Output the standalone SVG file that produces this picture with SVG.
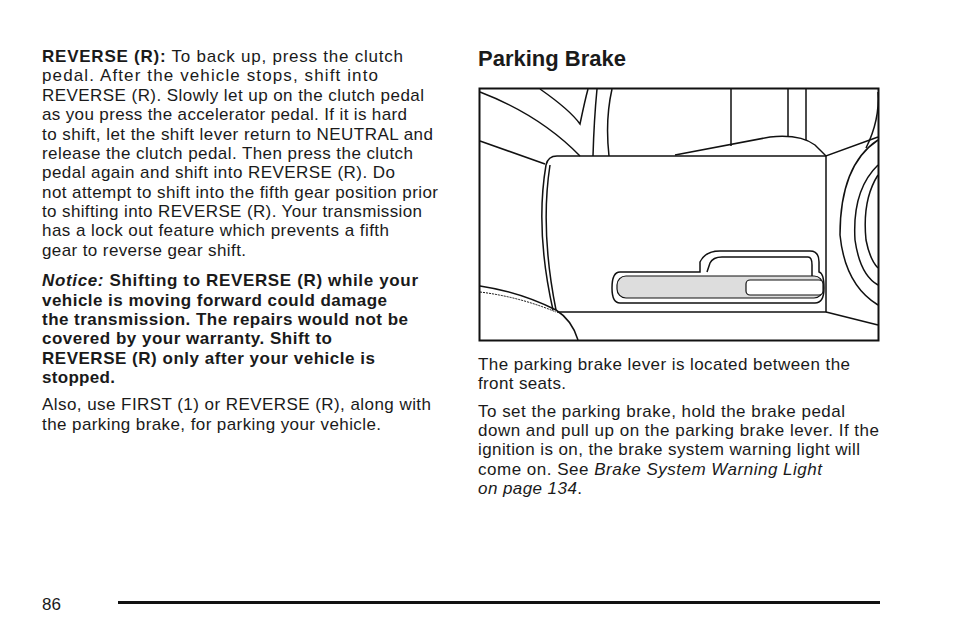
<svg xmlns="http://www.w3.org/2000/svg" width="954" height="636" viewBox="0 0 954 636">
<style>
text{font-family:"Liberation Sans",Arial,sans-serif;font-size:17px;fill:#1a1a1a}
.b{font-weight:bold}
.i{font-style:italic}
.ln{fill:none;stroke:#111;stroke-width:1.5}
</style>
<rect width="954" height="636" fill="#fff"/>
<g id="left-text">
<text x="42" y="62" textLength="361" lengthAdjust="spacing"><tspan class="b">REVERSE  (R):</tspan>  To back up, press the clutch</text>
<text x="42" y="81" textLength="336" lengthAdjust="spacing">pedal. After the vehicle stops, shift into</text>
<text x="42" y="101" textLength="382" lengthAdjust="spacing">REVERSE (R). Slowly let up on the clutch pedal</text>
<text x="42" y="120" textLength="365" lengthAdjust="spacing">as you press the accelerator pedal. If it is hard</text>
<text x="42" y="140" textLength="391" lengthAdjust="spacing">to shift, let the shift lever return to NEUTRAL and</text>
<text x="42" y="159" textLength="371" lengthAdjust="spacing">release the clutch pedal. Then press the clutch</text>
<text x="42" y="178" textLength="353" lengthAdjust="spacing">pedal again and shift into REVERSE (R). Do</text>
<text x="42" y="198" textLength="396" lengthAdjust="spacing">not attempt to shift into the fifth gear position prior</text>
<text x="42" y="217" textLength="380" lengthAdjust="spacing">to shifting into REVERSE (R). Your transmission</text>
<text x="42" y="236" textLength="347" lengthAdjust="spacing">has a lock out feature which prevents a fifth</text>
<text x="42" y="256" textLength="204" lengthAdjust="spacing">gear to reverse gear shift.</text>
<text x="42" y="286" class="b" textLength="376" lengthAdjust="spacing"><tspan class="i">Notice:</tspan>  Shifting to REVERSE (R) while your</text>
<text x="42" y="306" class="b" textLength="345" lengthAdjust="spacing">vehicle is moving forward could damage</text>
<text x="42" y="325" class="b" textLength="366" lengthAdjust="spacing">the transmission. The repairs would not be</text>
<text x="42" y="344" class="b" textLength="290" lengthAdjust="spacing">covered by your warranty. Shift to</text>
<text x="42" y="364" class="b" textLength="333" lengthAdjust="spacing">REVERSE (R) only after your vehicle is</text>
<text x="42" y="383" class="b" textLength="73" lengthAdjust="spacing">stopped.</text>
<text x="42" y="410" textLength="389" lengthAdjust="spacing">Also, use FIRST (1) or REVERSE (R), along with</text>
<text x="42" y="430" textLength="339" lengthAdjust="spacing">the parking brake, for parking your vehicle.</text>
</g>
<g id="right-text">
<text x="478" y="66" class="b" style="font-size:22px">Parking Brake</text>
<text x="478" y="370" textLength="372" lengthAdjust="spacing">The parking brake lever is located between the</text>
<text x="478" y="389" textLength="88" lengthAdjust="spacing">front seats.</text>
<text x="478" y="417" textLength="367" lengthAdjust="spacing">To set the parking brake, hold the brake pedal</text>
<text x="478" y="436" textLength="401" lengthAdjust="spacing">down and pull up on the parking brake lever. If the</text>
<text x="478" y="455" textLength="382" lengthAdjust="spacing">ignition is on, the brake system warning light will</text>
<text x="478" y="475" textLength="344" lengthAdjust="spacing">come on. See <tspan class="i">Brake System Warning Light</tspan></text>
<text x="478" y="494" textLength="104" lengthAdjust="spacing"><tspan class="i">on page 134</tspan>.</text>
<text x="42" y="610">86</text>
</g>
<rect id="rule" x="118" y="601" width="762" height="3" fill="#111"/>
<g id="illustration">
<rect x="479.5" y="88.5" width="399" height="252" fill="#fff" stroke="#111" stroke-width="2"/>
<path class="ln" d="M480 92 Q540 115 580 156 M540 89 Q570 110 580 124 Q585 100 588 89 M597 89 Q594 120 593 156 M612 89 Q605 120 609 156"/>
<path class="ln" d="M480 141 L545 164"/>
<path class="ln" d="M731 89 L731 146 M788 89 L788 137 M806 89 L806 140"/>
<path class="ln" d="M675 155 L770 137 Q800 134 815 145 L826 156 L878 137"/>
<path class="ln" d="M878 92 Q880 120 866 148"/>
<path class="ln" d="M557 156 L826 156 L826 312 L557 312"/>
<path class="ln" d="M557 156 Q548 156 546 165 Q535 230 553 310"/>
<path class="ln" d="M550 165 Q540 230 556 310"/>
<path class="ln" d="M878 140 Q840 165 840 235 Q845 285 878 305 M878 165 Q852 190 855 240 Q860 275 878 285 M878 175 Q862 200 866 240 Q870 260 878 268"/>
<path class="ln" d="M826 312 L878 325"/>
<path class="ln" d="M480 286 Q520 292 556 310 Q572 320 578 340"/>
<path d="M480 292 Q520 297 556 312" fill="none" stroke="#111" stroke-dasharray="2 1"/>
<path class="ln" d="M620 272 L700 272 L700 262 Q705 251 720 251 L810 251 Q819 251 819 262 L819 272 Q824 273 824 288 Q824 303 815 303 L620 303 Q612 303 612 288 Q612 272 620 272 Z"/>
<path class="ln" d="M707 272 L710 263 Q713 257 722 257 L808 257 Q812 257 812 265 L812 276"/>
<rect x="617" y="276" width="206" height="22" rx="9" fill="#ddd" stroke="#111" stroke-width="1.2"/>
<rect x="746" y="280" width="77" height="15" rx="4" fill="#fff" stroke="#111" stroke-width="1.2"/>
</g>
</svg>
